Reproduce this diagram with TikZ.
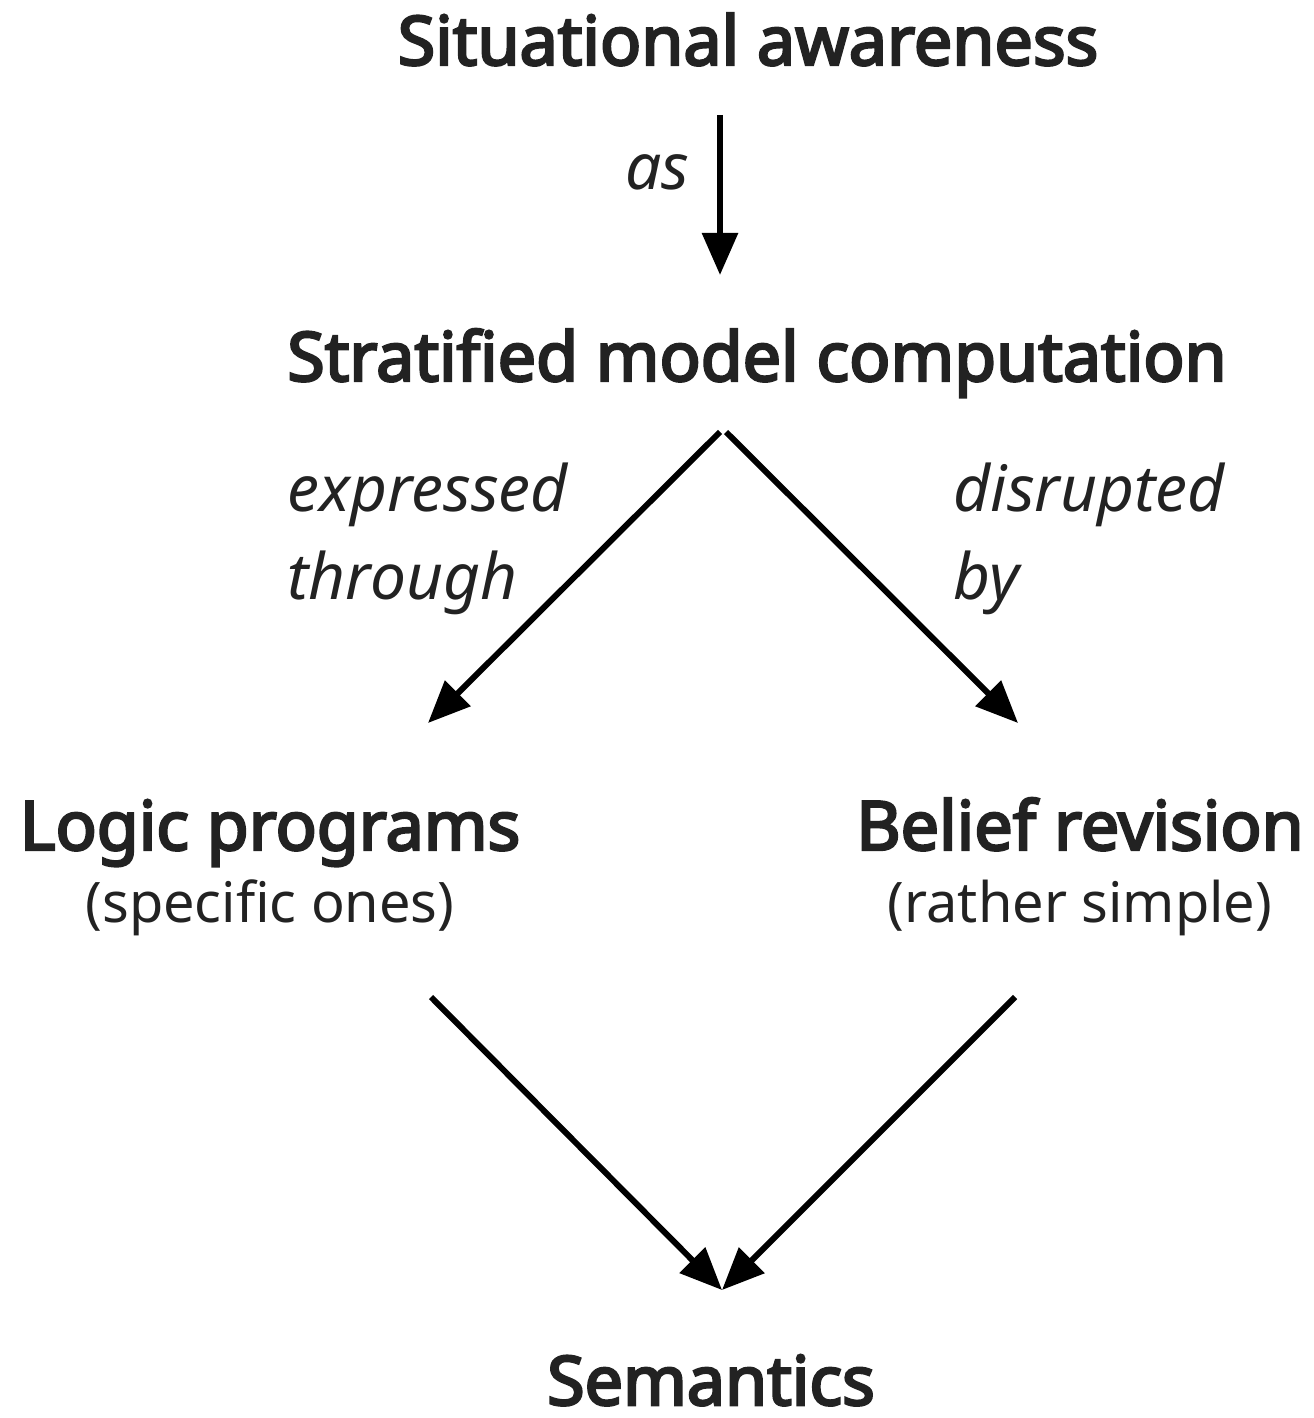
\documentclass[tikz,border=0pt]{standalone}
\usepackage{fontspec}
\setmainfont{Noto Sans}[AutoFakeBold=3.6]
\usetikzlibrary{arrows.meta, positioning}
\definecolor{ink}{HTML}{222222}

\begin{document}
\begin{tikzpicture}[
    >={Triangle[length=12pt, width=10pt]},
    concept/.style={font=\fontsize{19.4}{23}\selectfont\bfseries, text=ink,
                    inner sep=0pt, anchor=base},
    remark/.style={font=\fontsize{15.9}{19}\selectfont, text=ink,
                   inner sep=0pt, anchor=base},
    rel/.style={font=\fontsize{18.2}{25}\selectfont\itshape, text=ink,
                inner sep=0pt, align=left},
    link/.style={->, line width=1.7pt, black}
  ]
  \useasboundingbox (0,0) rectangle (13.13,-14.18);

  % Concepts
  \node[concept] (aware) at (7.48, -0.65) {Situational awareness};
  \node[concept] (strat) at (7.57, -3.81) {Stratified model computation};
  \node[concept] (logic) at (2.70, -8.50) {Logic programs};
  \node[remark] (logicnote) at (2.70, -9.22) {(specific ones)};
  \node[concept] (belief) at (10.80, -8.50) {Belief revision};
  \node[remark] (beliefnote) at (10.80, -9.22) {(rather simple)};
  \node[concept, text depth=0pt] (sem) at (7.11, -14.05) {Semantics};

  % Arrow ends
  \coordinate (a1s) at (7.20, -1.15);
  \coordinate (a1e) at (7.20, -2.75);
  \coordinate (lts) at (7.20, -4.32);
  \coordinate (lte) at (4.28, -7.23);
  \coordinate (rts) at (7.26, -4.32);
  \coordinate (rte) at (10.18, -7.23);
  \coordinate (lbs) at (4.31, -9.97);
  \coordinate (rbs) at (10.15, -9.97);
  \coordinate (bot) at (7.22, -12.90);

  \draw[link] (a1s) -- (a1e);
  \draw[link] (lts) -- (lte);
  \draw[link] (rts) -- (rte);
  \draw[link] (lbs) -- (bot);
  \draw[link] (rbs) -- (bot);

  % Relation labels
  \node[rel, anchor=east] (as) at (6.90, -1.72) {as};
  \node[rel, anchor=north west] (expr) at (2.87, -4.62) {expressed\\through};
  \node[rel, anchor=north west] (disr) at (9.53, -4.62) {disrupted\\by};
\end{tikzpicture}
\end{document}
